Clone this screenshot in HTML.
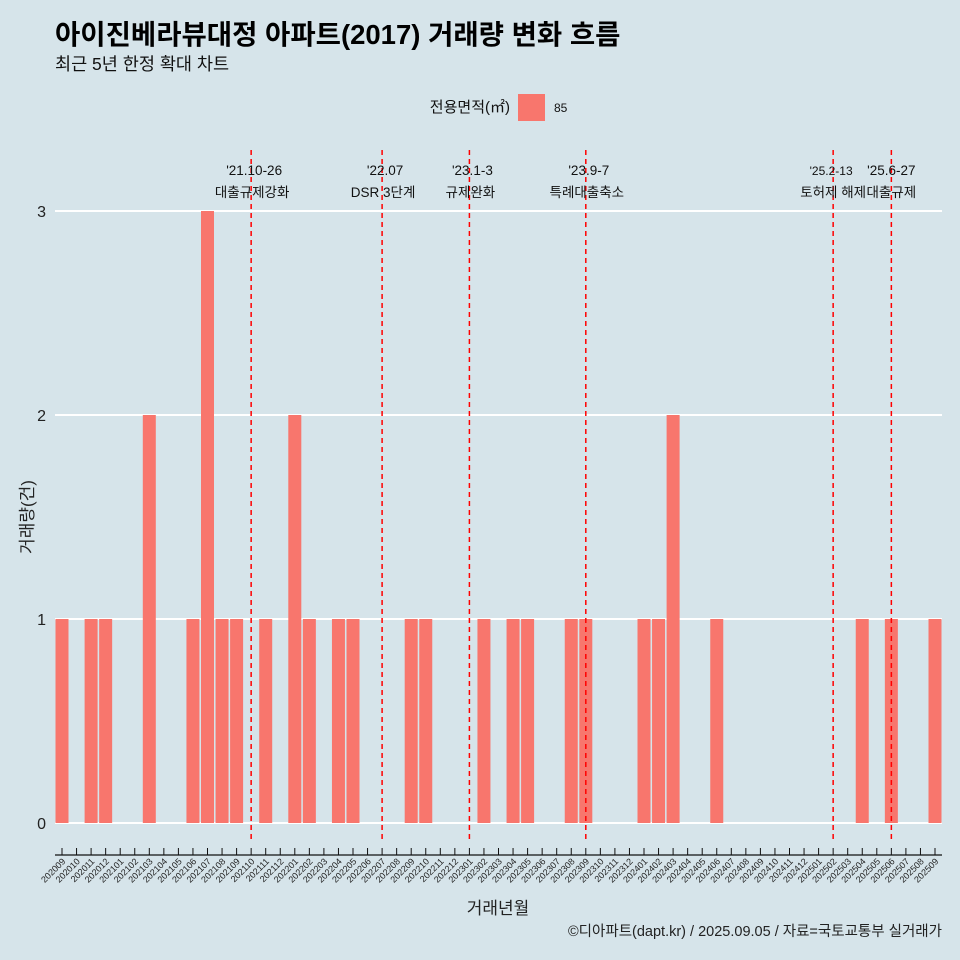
<!DOCTYPE html>
<html><head><meta charset="utf-8">
<style>
html,body{margin:0;width:960px;height:960px;overflow:hidden;background:#d6e4ea;font-family:"Liberation Sans","Noto Sans CJK KR",sans-serif;}
svg{display:block}
svg text{font-family:"Liberation Sans","Noto Sans CJK KR",sans-serif;}
</style></head>
<body>
<svg id="c" width="960" height="960" viewBox="0 0 960 960" xmlns="http://www.w3.org/2000/svg">
<rect width="960" height="960" fill="#d6e4ea"/>
<text x="55" y="44" font-size="27.5" font-weight="bold" fill="#000">아이진베라뷰대정 아파트(2017) 거래량 변화 흐름</text>
<text x="55" y="70" font-size="17.5" fill="#111">최근 5년 한정 확대 차트</text>
<text x="510" y="112" font-size="15" text-anchor="end" fill="#111">전용면적(㎡)</text>
<rect x="518" y="94" width="27" height="27" fill="#f8766d"/>
<text x="554" y="112" font-size="12" fill="#111">85</text>
<g id="grid"></g><g id="bars"></g><g id="events"></g><g id="axis"></g>
<text x="33" y="517" font-size="17" fill="#222" text-anchor="middle" transform="rotate(-90 33 517)">거래량(건)</text>
<text x="498" y="914" font-size="17" fill="#222" text-anchor="middle">거래년월</text>
<text x="942" y="936" font-size="14.5" fill="#222" text-anchor="end">©디아파트(dapt.kr) / 2025.09.05 / 자료=국토교통부 실거래가</text>
</svg>
<script>
const months=[];for(let y=2020,m=9;months.length<61;){months.push(''+y+(m<10?'0':'')+m);m++;if(m>12){m=1;y++;}}
const values=[1,0,1,1,0,0,2,0,0,1,3,1,1,0,1,0,2,1,0,1,1,0,0,0,1,1,0,0,0,1,0,1,1,0,0,1,1,0,0,0,1,1,2,0,0,1,0,0,0,0,0,0,0,0,0,1,0,1,0,0,1];
const yTicks=[0,1,2,3];
const eventMonths=['202110','202207','202301','202309','202502','202506'];
const eventDates=["'21.10-26","'22.07","'23.1-3","'23.9-7","'25.2-13","'25.6-27"];
const eventLabels=["대출규제강화","DSR 3단계","규제완화","특례대출축소","토허제 해제","대출규제"];
const NS='http://www.w3.org/2000/svg';
const X=i=>62+i*14.55, Y=v=>823-v*204;
function mk(t,a,p){const e=document.createElementNS(NS,t);for(const k in a)e.setAttribute(k,a[k]);p.appendChild(e);return e;}
const g=document.getElementById('grid'),b=document.getElementById('bars'),ev=document.getElementById('events'),ax=document.getElementById('axis');
yTicks.forEach(v=>{
 const l=mk('line',{x1:55,x2:942,y1:Y(v),y2:Y(v),stroke:'#fff','stroke-width':2},g);
 
 
 const t=mk('text',{x:46,y:Y(v)+6,'font-size':16,'text-anchor':'end',fill:'#222'},g);t.textContent=v;
 
 
});
values.forEach((v,i)=>{
 if(v<=0)return;
 const r=mk('rect',{x:X(i)-6.5,y:Y(v),width:13,height:Y(0)-Y(v),fill:'#f8766d'},b);
 
 
});
eventMonths.forEach((m,k)=>{
 const x=X(months.indexOf(m));
 const l=mk('line',{x1:x,x2:x,y1:150,y2:842,stroke:'#ff0000','stroke-width':1.5,'stroke-dasharray':'5,4'},ev);
 
 
 const small=k==4;
 const off=k==4?-2:(k==5?0:3);
 const t1=mk('text',{x:x+off,y:175,'font-size':small?12:13.5,'text-anchor':'middle',fill:'#111'},ev);t1.textContent=eventDates[k];
 
 
 const t2=mk('text',{x:x+(k>=4?0:1),y:197,'font-size':13.5,'text-anchor':'middle',fill:'#111'},ev);t2.textContent=eventLabels[k];
 
 
});
const al=mk('line',{x1:55,x2:942,y1:855,y2:855,stroke:'#111','stroke-width':1.2},ax);


months.forEach((m,i)=>{
 const x=X(i);
 mk('line',{x1:x,x2:x,y1:848,y2:855,stroke:'#111','stroke-width':1},ax);
 const t=mk('text',{x:x+4,y:862,'font-size':9,'text-anchor':'end',fill:'#222',transform:`rotate(-45 ${x+4} 862)`},ax);t.textContent=m;
 
 
});
</script>
</body></html>
